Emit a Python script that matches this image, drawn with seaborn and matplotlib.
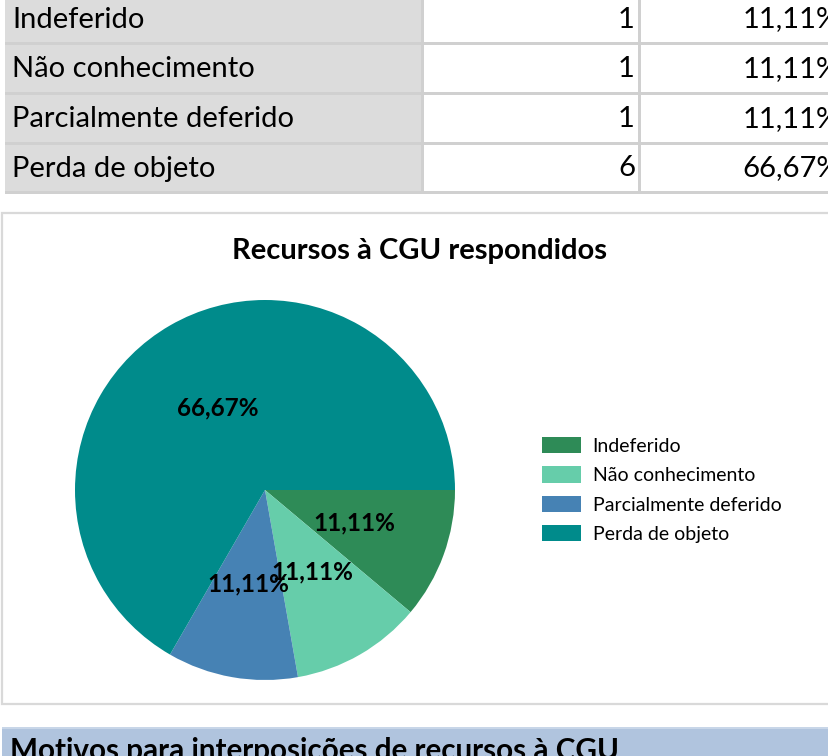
import matplotlib
matplotlib.use("Agg")
import matplotlib.pyplot as plt
from matplotlib.patches import Rectangle, Patch
import seaborn as sns

categories = ["Indeferido", "Não conhecimento", "Parcialmente deferido", "Perda de objeto"]
counts = [1, 1, 1, 6]
colors = ["#2E8B57", "#66CDAA", "#4682B4", "#008B8B"]
title = "Recursos à CGU respondidos"
next_header = "Motivos para interposições de recursos à CGU"

sns.set_theme(style="white")
plt.rcParams["font.family"] = ["Lato", "DejaVu Sans"]
plt.rcParams["text.color"] = "black"

W, H = 829, 756
fig = plt.figure(figsize=(W / 100, H / 100), dpi=100)
fig.patch.set_facecolor("white")


def rect(x0, y0, x1, y1, **kw):
    fig.patches.append(Rectangle((x0 / W, 1 - y1 / H), (x1 - x0) / W, (y1 - y0) / H,
                                 transform=fig.transFigure, figure=fig, zorder=-5, **kw))


def fmt_pct(v):
    return f"{v:.2f}".replace(".", ",") + "%"


total = sum(counts)
pcts = [c / total * 100 for c in counts]

# --- table ---
grid = "#D0D0D0"
rect(5, -5, 423, 192, facecolor="#DCDCDC", edgecolor="none")
row_lines = [-6, 43, 93, 143, 192]
for y in row_lines[1:]:
    rect(5, y - 1.5, 840, y + 1.5, facecolor=grid, edgecolor="none")
for x in [423, 640]:
    rect(x - 1.5, -5, x + 1.5, 192, facecolor=grid, edgecolor="none")
for i, (cat, c, p) in enumerate(zip(categories, counts, pcts)):
    yc = (row_lines[i] + row_lines[i + 1]) / 2 + 1
    fig.text(12 / W, 1 - yc / H, cat, fontsize=21, va="center", ha="left", color="black")
    fig.text(635 / W, 1 - yc / H, str(c), fontsize=21, va="center", ha="right", color="black")
    fig.text(840 / W, 1 - yc / H, fmt_pct(p), fontsize=21, va="center", ha="right", color="black")

# --- chart box ---
rect(2, 213, 840, 704, facecolor="white", edgecolor="#D9D9D9", linewidth=1.6)
fig.text(420 / W, 1 - 251 / H, title, fontsize=21, fontweight="bold", ha="center",
         va="center", color="black")

cx, cy, r = 265, 490, 190
ax = fig.add_axes([(cx - r) / W, 1 - (cy + r) / H, 2 * r / W, 2 * r / H])
ax.patch.set_visible(False)
wedges, texts, autotexts = ax.pie(
    counts, colors=colors, startangle=0, counterclock=False,
    autopct=lambda v: fmt_pct(v), pctdistance=0.5,
    wedgeprops=dict(linewidth=0),
    textprops=dict(fontsize=17.5, fontweight="bold", color="black"))
ax.set_xlim(-1, 1)
ax.set_ylim(-1, 1)
ax.set_aspect("equal")
ax.axis("off")

handles = [Patch(facecolor=c, edgecolor="none") for c in colors]
leg = fig.legend(handles, categories, loc="upper left",
                 bbox_to_anchor=(542 / W, 1 - 437 / H), frameon=False,
                 fontsize=14, handlelength=2.0, handleheight=0.9,
                 labelspacing=0.6, handletextpad=0.6, borderpad=0, borderaxespad=0)
for t in leg.get_texts():
    t.set_color("black")

# --- next section header ---
rect(2, 728, 840, 770, facecolor="#B0C4DE", edgecolor="none")
rect(2, 727, 840, 729, facecolor="#C8D6E8", edgecolor="none")
fig.text(10 / W, 1 - 737 / H, next_header, fontsize=21.3, fontweight="bold",
         ha="left", va="top", color="black")

fig.savefig("out.png", dpi=100)
